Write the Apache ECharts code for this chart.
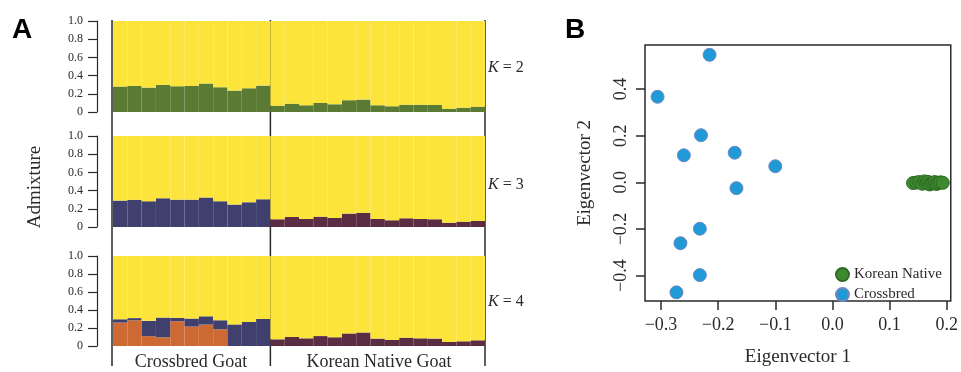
<!DOCTYPE html>
<html>
<head>
<meta charset="utf-8">
<script src="https://cdn.jsdelivr.net/npm/echarts@6/dist/echarts.min.js"></script>
<style>
  html, body { margin: 0; padding: 0; background: #fff; }
  #main { width: 961px; height: 372px; }
</style>
</head>
<body>
<div id="main"></div>
<script>
// samples: 11 crossbred + 15 korean native
var crossIds = ['CB01','CB02','CB03','CB04','CB05','CB06','CB07','CB08','CB09','CB10','CB11'];
var nativeIds = ['KN01','KN02','KN03','KN04','KN05','KN06','KN07','KN08','KN09','KN10','KN11','KN12','KN13','KN14','KN15'];

// K = 2
var crossK2Green  = [0.280,0.287,0.268,0.298,0.283,0.287,0.313,0.272,0.235,0.261,0.290];
var crossK2Yellow = [0.720,0.713,0.732,0.702,0.717,0.713,0.687,0.728,0.765,0.739,0.710];
var nativeK2Green  = [0.070,0.092,0.074,0.100,0.085,0.130,0.136,0.074,0.063,0.080,0.080,0.077,0.037,0.048,0.059];
var nativeK2Yellow = [0.930,0.908,0.926,0.900,0.915,0.870,0.864,0.926,0.937,0.920,0.920,0.923,0.963,0.952,0.941];

// K = 3
var crossK3Blue   = [0.290,0.298,0.283,0.316,0.300,0.300,0.324,0.283,0.246,0.272,0.305];
var crossK3Yellow = [0.710,0.702,0.717,0.684,0.700,0.700,0.676,0.717,0.754,0.728,0.695];
var nativeK3Maroon = [0.085,0.110,0.088,0.114,0.100,0.147,0.154,0.088,0.074,0.096,0.088,0.085,0.048,0.059,0.066];
var nativeK3Yellow = [0.915,0.890,0.912,0.886,0.900,0.853,0.846,0.912,0.926,0.904,0.912,0.915,0.952,0.941,0.934];

// K = 4
var crossK4Orange = [0.260,0.286,0.110,0.097,0.275,0.216,0.238,0.186,0,0,0];
var crossK4Blue   = [0.037,0.024,0.170,0.219,0.037,0.089,0.092,0.100,0.240,0.268,0.300];
var crossK4Yellow = [0.703,0.690,0.720,0.684,0.688,0.695,0.670,0.714,0.760,0.732,0.700];
var nativeK4Maroon = [0.074,0.100,0.085,0.110,0.097,0.140,0.150,0.082,0.067,0.093,0.085,0.082,0.045,0.052,0.063];
var nativeK4Yellow = [0.926,0.900,0.915,0.890,0.903,0.860,0.850,0.918,0.933,0.907,0.915,0.918,0.955,0.948,0.937];

var admixTicks = [0, 0.2, 0.4, 0.6, 0.8, 1.0];

// PCA: [eigenvector 1, eigenvector 2]
var crossPts = [
  [-0.306, 0.367], [-0.215, 0.547], [-0.230, 0.202], [-0.260, 0.116],
  [-0.171, 0.127], [-0.100, 0.069], [-0.168, -0.025], [-0.232, -0.199],
  [-0.266, -0.261], [-0.232, -0.398], [-0.273, -0.472]
];
var nativePts = [
  [0.141, -0.003], [0.147, -0.001], [0.152, 0.001], [0.157, -0.006], [0.161, 0.004],
  [0.164, -0.004], [0.167, 0.002], [0.170, -0.009], [0.173, -0.005], [0.176, -0.002],
  [0.179, 0.001], [0.182, -0.007], [0.185, -0.003], [0.189, 0.000], [0.193, -0.002]
];
var eigTicksX = [-0.3, -0.2, -0.1, 0, 0.1, 0.2];
var eigTicksY = [-0.4, -0.2, 0, 0.2, 0.4];

var YELLOW = '#fde43b', GREEN = '#5b7b34', NAVY = '#3f406e', MAROON = '#5a2d42', ORANGE = '#cd6a33';
var SERIF = 'Liberation Serif';
var INK = '#2a2a2a';

var samples = crossIds.concat(nativeIds);
function pad(arr, n, before) {
  var blank = [];
  for (var i = 0; i < n; i++) blank.push(null);
  return before ? blank.concat(arr) : arr.concat(blank);
}

var barLeft = 113, barWidth = 372;
var rowTops = [21, 136, 256], rowHeights = [91, 91, 90];

var chart = echarts.init(document.getElementById('main'), null, { renderer: 'canvas' });

var grids = [], xAxes = [], yAxes = [];
rowTops.forEach(function (t, i) {
  grids.push({ left: barLeft, top: t, width: barWidth, height: rowHeights[i] });
  xAxes.push({ type: 'category', gridIndex: i, data: samples, show: false, boundaryGap: true });
  yAxes.push({
    type: 'value', gridIndex: i, min: 0, max: 1, interval: 0.2, offset: 16,
    axisLine: { show: true, lineStyle: { color: INK, width: 1.2 } },
    axisTick: { show: true, length: 9, lineStyle: { color: INK, width: 1.2 } },
    splitLine: { show: false },
    axisLabel: {
      margin: 14, fontFamily: SERIF, fontSize: 12, color: INK,
      customValues: admixTicks,
      formatter: function (v) { return v === 0 ? '0' : v.toFixed(1); }
    }
  });
});

// PCA grid
grids.push({ left: 645, top: 45, width: 310, height: 259, show: true, borderColor: INK, borderWidth: 1.5, backgroundColor: 'transparent' });
function eigFmt(v) { return (v < 0 ? '\u2212' : '') + Math.abs(v).toFixed(1); }
xAxes.push({
  type: 'value', gridIndex: 3, min: -0.328, max: 0.207,
  axisLine: { show: false, onZero: false },
  axisTick: { show: true, length: 9, customValues: eigTicksX, lineStyle: { color: INK, width: 1.5 } },
  splitLine: { show: false },
  axisLabel: { customValues: eigTicksX, formatter: eigFmt, margin: 15, fontFamily: SERIF, fontSize: 18, color: INK },
  name: 'Eigenvector 1', nameLocation: 'middle', nameGap: 47,
  nameTextStyle: { fontFamily: SERIF, fontSize: 19, color: INK }
});
yAxes.push({
  type: 'value', gridIndex: 3, min: -0.509, max: 0.589,
  axisLine: { show: false, onZero: false },
  axisTick: { show: true, length: 9, customValues: eigTicksY, lineStyle: { color: INK, width: 1.5 } },
  splitLine: { show: false },
  axisLabel: { customValues: eigTicksY, formatter: eigFmt, rotate: 90, margin: 15, fontFamily: SERIF, fontSize: 18, color: INK },
  name: 'Eigenvector 2', nameLocation: 'middle', nameGap: 50, nameRotate: 90,
  nameTextStyle: { fontFamily: SERIF, fontSize: 19, color: INK }
});

function bar(idx, name, data, color) {
  return {
    type: 'bar', name: name, xAxisIndex: idx, yAxisIndex: idx, stack: 'k' + idx,
    data: data, barCategoryGap: '0%', itemStyle: { color: color }, silent: true
  };
}

var series = [
  bar(0, 'K2-1', crossK2Green.concat(nativeK2Green), GREEN),
  bar(0, 'K2-2', crossK2Yellow.concat(nativeK2Yellow), YELLOW),
  bar(1, 'K3-1', pad(crossK3Blue, 15, false), NAVY),
  bar(1, 'K3-2', pad(nativeK3Maroon, 11, true), MAROON),
  bar(1, 'K3-3', crossK3Yellow.concat(nativeK3Yellow), YELLOW),
  bar(2, 'K4-1', pad(crossK4Orange, 15, false), ORANGE),
  bar(2, 'K4-2', pad(crossK4Blue, 15, false), NAVY),
  bar(2, 'K4-3', pad(nativeK4Maroon, 11, true), MAROON),
  bar(2, 'K4-4', crossK4Yellow.concat(nativeK4Yellow), YELLOW),
  {
    type: 'scatter', name: 'Korean Native', xAxisIndex: 3, yAxisIndex: 3,
    data: nativePts, symbolSize: 13,
    itemStyle: { color: '#3d8a2f', borderColor: '#2c6a25', borderWidth: 1, opacity: 1 }
  },
  {
    type: 'scatter', name: 'Crossbred', xAxisIndex: 3, yAxisIndex: 3,
    data: crossPts, symbolSize: 13,
    itemStyle: { color: '#1f9ad6', borderColor: '#6f88c0', borderWidth: 1, opacity: 1 }
  }
];

// separator lines of panel A
var cellW = barWidth / samples.length;
var sepX = [barLeft - 1, barLeft + crossIds.length * cellW, barLeft + barWidth];
var graphics = sepX.map(function (x) {
  return { type: 'line', shape: { x1: x, y1: 20, x2: x, y2: 366 }, style: { stroke: INK, lineWidth: 1.5 }, silent: true };
});

function txt(x, y, s, opt) {
  var st = Object.assign({ text: s, x: 0, y: 0, fill: INK, fontFamily: SERIF, fontSize: 18, align: 'center', verticalAlign: 'middle' }, opt || {});
  return { type: 'text', x: x, y: y, style: st, silent: true };
}
graphics.push(txt(22, 30, 'A', { fontFamily: 'Liberation Sans', fontWeight: 'bold', fontSize: 28, fill: '#000' }));
graphics.push(txt(575, 30, 'B', { fontFamily: 'Liberation Sans', fontWeight: 'bold', fontSize: 28, fill: '#000' }));
graphics.push({ type: 'text', x: 35, y: 187, rotation: Math.PI / 2, silent: true,
  style: { text: 'Admixture', fill: INK, fontFamily: SERIF, fontSize: 19, align: 'center', verticalAlign: 'middle' } });
graphics.push(txt(191, 362, 'Crossbred Goat'));
graphics.push(txt(379, 362, 'Korean Native Goat'));
['2', '3', '4'].forEach(function (k, i) {
  var yy = [68, 185, 302][i];
  graphics.push({ type: 'text', x: 488, y: yy, silent: true, style: {
    text: '{i|K} = ' + k, fill: INK, fontFamily: SERIF, fontSize: 16, align: 'left', verticalAlign: 'middle',
    rich: { i: { fontStyle: 'italic', fontFamily: SERIF, fontSize: 16, fill: INK } }
  } });
});

chart.setOption({
  animation: false,
  backgroundColor: '#fff',
  grid: grids,
  xAxis: xAxes,
  yAxis: yAxes,
  legend: {
    data: ['Korean Native', 'Crossbred'], orient: 'vertical', left: 830, top: 262,
    itemWidth: 13, itemHeight: 13, itemGap: 5, icon: 'circle',
    textStyle: { fontFamily: SERIF, fontSize: 15, color: INK }
  },
  series: series,
  graphic: graphics
});
</script>
</body>
</html>
